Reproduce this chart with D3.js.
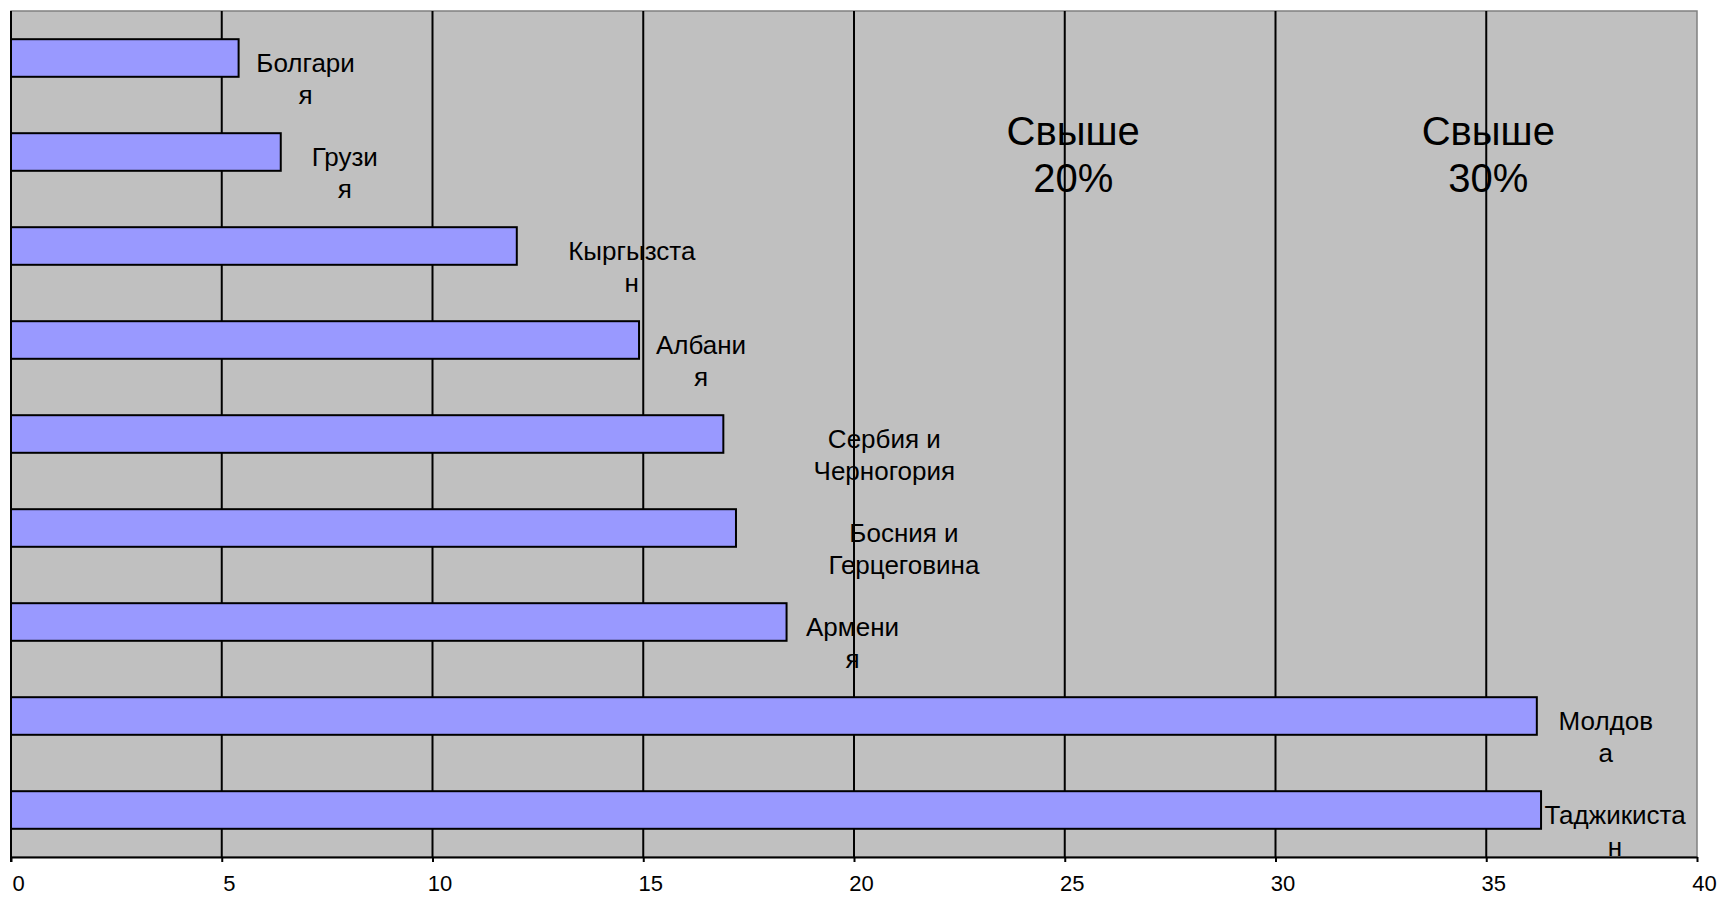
<!DOCTYPE html>
<html>
<head>
<meta charset="utf-8">
<script src="https://cdn.jsdelivr.net/npm/d3@7"></script>
<style>
  html, body { margin: 0; padding: 0; background: #ffffff; }
  svg { display: block; font-family: "Liberation Sans", Arial, sans-serif; }
</style>
</head>
<body>
<svg id="chart" width="1717" height="897"></svg>
<script>
// ---- data ----
const categories = ["Болгария", "Грузия", "Кыргызстан", "Албания", "Сербия и Черногория",
                    "Босния и Герцеговина", "Армения", "Молдова", "Таджикистан"];
const values = [5.4, 6.4, 12.0, 14.9, 16.9, 17.2, 18.4, 36.2, 36.3];
// label text as wrapped in the picture
const labelLines = [["Болгари", "я"], ["Грузи", "я"], ["Кыргызста", "н"], ["Албани", "я"],
                    ["Сербия и", "Черногория"], ["Босния и", "Герцеговина"], ["Армени", "я"],
                    ["Молдов", "а"], ["Таджикиста", "н"]];
const tickValues = [0, 5, 10, 15, 20, 25, 30, 35, 40];
const tickLabels = ["0", "5", "10", "15", "20", "25", "30", "35", "40"];
const annotations = [["Свыше", "20%"], ["Свыше", "30%"]];
const annotationAt = [25.2, 35.05];

// ---- layout ----
const labelDx = [67, 64, 115, 62, 161, 168, 66, 69, 74];
const W = 1717, H = 897;
const plot = { left: 11, right: 1697, top: 11, bottom: 857 };

const svg = d3.select("#chart");
svg.append("rect").attr("width", W).attr("height", H).attr("fill", "#ffffff");

const x = d3.scaleLinear().domain([0, 40]).range([plot.left, plot.right]);
const y = d3.scaleBand().domain(categories).range([plot.top, plot.bottom])
  .paddingInner(0.6).paddingOuter(0.3);

// plot area
svg.append("rect")
  .attr("x", plot.left).attr("y", plot.top)
  .attr("width", plot.right - plot.left).attr("height", plot.bottom - plot.top)
  .attr("fill", "#C0C0C0").attr("stroke", "#808080").attr("stroke-width", 1.5);

// gridlines
svg.append("g").selectAll("line")
  .data(tickValues.filter(t => t > 0 && t < 40))
  .join("line")
  .attr("x1", d => x(d)).attr("x2", d => x(d))
  .attr("y1", plot.top).attr("y2", plot.bottom)
  .attr("stroke", "#000").attr("stroke-width", 2);

// annotations
annotations.forEach((lines, i) => {
  const t = svg.append("text")
    .attr("text-anchor", "middle")
    .attr("font-size", 40)
    .attr("fill", "#000");
  lines.forEach((ln, j) => {
    t.append("tspan").attr("x", x(annotationAt[i])).attr("y", 145 + j * 47).text(ln);
  });
});

// bars
svg.append("g").selectAll("rect")
  .data(categories)
  .join("rect")
  .attr("x", x(0))
  .attr("y", d => y(d))
  .attr("width", (d, i) => x(values[i]) - x(0))
  .attr("height", y.bandwidth())
  .attr("fill", "#9999FF")
  .attr("stroke", "#000").attr("stroke-width", 2);

// data labels
const lab = svg.append("g").selectAll("text")
  .data(categories)
  .join("text")
  .attr("text-anchor", "middle")
  .attr("font-size", 26)
  .attr("fill", "#000");
lab.each(function(d, i) {
  const cx = x(values[i]) + labelDx[i];
  const cy = y(d) + y.bandwidth() / 2;
  labelLines[i].forEach((ln, j) => {
    d3.select(this).append("tspan").attr("x", cx).attr("y", cy + 14 + j * 32).text(ln);
  });
});

// left axis line
svg.append("line")
  .attr("x1", plot.left).attr("x2", plot.left)
  .attr("y1", plot.top).attr("y2", plot.bottom + 5)
  .attr("stroke", "#000").attr("stroke-width", 2);

// bottom axis
const axis = d3.axisBottom(x).tickValues(tickValues)
  .tickFormat((d, i) => tickLabels[i]).tickSize(5).tickSizeOuter(0).tickPadding(0);
const ax = svg.append("g").attr("transform", `translate(0,${plot.bottom})`).call(axis);
ax.select(".domain").attr("stroke", "#000").attr("stroke-width", 2);
ax.selectAll(".tick line").attr("stroke", "#000").attr("stroke-width", 2);
ax.selectAll(".tick text")
  .attr("font-family", "Liberation Sans, Arial, sans-serif")
  .attr("font-size", 22)
  .attr("fill", "#000")
  .attr("dy", null)
  .attr("y", 34)
  .attr("x", 7);
</script>
</body>
</html>
